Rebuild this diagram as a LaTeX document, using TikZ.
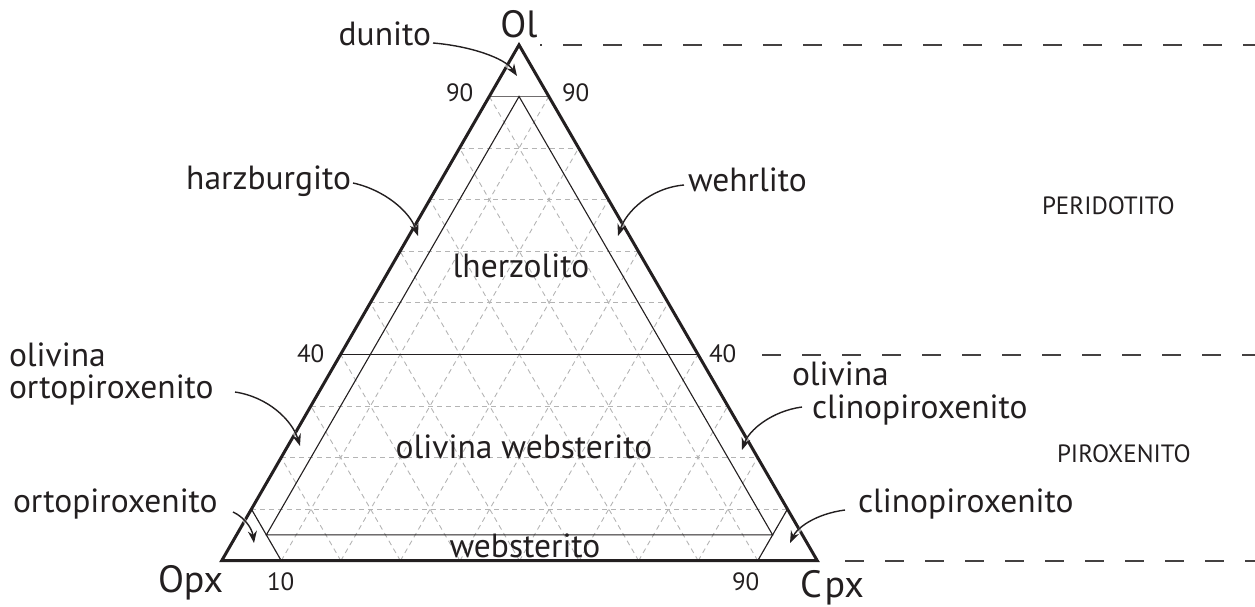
\documentclass[tikz,border=0pt]{standalone}
\usepackage{fontspec}
\setmainfont{PT Sans}
\usetikzlibrary{arrows.meta,calc}
\definecolor{ink}{HTML}{231F20}
\definecolor{gridgray}{HTML}{B4B4B4}
\newcommand\labfont{\fontsize{33.5bp}{38bp}\selectfont}
\newcommand\bigfont{\fontsize{38bp}{42bp}\selectfont}
\newcommand\numfont{\fontsize{25bp}{28bp}\selectfont}
\newcommand\capsfont{\fontsize{25bp}{28bp}\selectfont}
\begin{document}
\begin{tikzpicture}[x=1bp,y=-1bp,
  every node/.style={inner sep=0pt,outer sep=0pt,text=ink},
  lbl/.style={font=\labfont,anchor=base west},
  big/.style={font=\bigfont,anchor=base west},
  num/.style={font=\numfont,anchor=base west},
  caps/.style={font=\capsfont,anchor=base west},
  gridline/.style={draw=gridgray,line width=0.9bp,dash pattern=on 5bp off 4bp},
  thinline/.style={draw=ink,line width=1.1bp},
  outline/.style={draw=ink,line width=3bp,line join=miter},
  pointer/.style={draw=ink,line width=1.4bp,-{Stealth[length=12bp,width=9bp,inset=4bp]},
     preaction={draw=white,line width=3.5bp,opacity=0.6,-}},
  sepline/.style={draw=ink!85,line width=1.3bp,dash pattern=on 19bp off 21bp}]
\useasboundingbox (0,0) rectangle (1255,607);
\coordinate (A) at (519,44.9);
\coordinate (B) at (221.7,560.7);
\coordinate (C) at (817.3,560.7);
% grid
\foreach \i in {1,...,9}{
  \pgfmathsetmacro\a{\i/10}\pgfmathsetmacro\b{1-\i/10}
  \draw[gridline] (barycentric cs:A=\a,B=\b) -- (barycentric cs:A=\a,C=\b);
  \draw[gridline] (barycentric cs:C=\a,B=\b) -- (barycentric cs:C=\a,A=\b);
  \draw[gridline] (barycentric cs:B=\a,C=\b) -- (barycentric cs:B=\a,A=\b);
}
% classification lines
\draw[thinline,draw=ink!65,line width=1.4bp] (barycentric cs:A=.9,B=.1) -- (barycentric cs:A=.9,C=.1);
\draw[thinline] (barycentric cs:A=.4,B=.6) -- (barycentric cs:A=.4,C=.6);
\draw[thinline] (barycentric cs:A=.05,B=.9,C=.05) -- (barycentric cs:A=.9,B=.05,C=.05)
   -- (barycentric cs:A=.05,B=.05,C=.9) -- cycle;
\draw[thinline] (barycentric cs:B=.9,C=.1) -- (barycentric cs:B=.9,A=.1);
\draw[thinline] (barycentric cs:C=.9,B=.1) -- (barycentric cs:C=.9,A=.1);
\draw[outline] (A) -- (B) -- (C) -- cycle;
% separators
\draw[sepline,dash phase=17bp] (540,45) -- (1255,45);
\draw[sepline] (762,355) -- (1255,355);
\draw[sepline] (845,561) -- (1255,561);
% corner labels
\node[big,anchor=base] (nOl) at (519,38) {Ol};
\node[big] (nOpx) at (158,592) {Opx};
\node[big] (nCpx) at (800,597) {C\kern3bp px};
% numbers
\node[num] (n90l) at (446,102) {90};
\node[num] (n90r) at (562,102) {90};
\node[num] (n40l) at (297,363) {40};
\node[num] (n40r) at (709,363) {40};
\node[num] (n10b) at (267,590) {10};
\node[num] (n90b) at (732,590) {90};
% region labels
\node[lbl,anchor=base east] (dun) at (431,46) {dunito};
\node[lbl,anchor=base east] (harz) at (351,190) {harzburgito};
\node[lbl] (wehr) at (688,192) {wehrlito};
\node[lbl,anchor=base] (lherz) at (521,278) {lherzolito};
\node[lbl] (olo1) at (9,367) {olivina};
\node[lbl] (olo2) at (9,398) {ortopiroxenito};
\node[lbl] (olc1) at (792,385) {olivina};
\node[lbl] (olc2) at (812,418) {clinopiroxenito};
\node[lbl,anchor=base] (olweb) at (524,458) {olivina websterito};
\node[lbl,anchor=base] (web) at (525,557) {websterito};
\node[lbl] (orto) at (13,512) {ortopiroxenito};
\node[lbl] (clino) at (858,512) {clinopiroxenito};
\node[caps] (perid) at (1042,215) {PERIDOTITO};
\node[caps] (pirox) at (1057,462) {PIROXENITO};
% pointers
\coordinate (tDun) at (517,76);
\coordinate (tHarz) at (418,236);
\coordinate (tWehr) at (618,236);
\coordinate (tOlo) at (300,446);
\coordinate (tOlc) at (742,450);
\coordinate (tOrto) at (254,543);
\coordinate (tClino) at (790,543);
\draw[pointer] ([shift={(2,-3)}]dun.base east) .. controls (470,46) and (505,58) .. (tDun);
\draw[pointer] ([shift={(2,-7)}]harz.base east) .. controls (385,190) and (410,212) .. (tHarz);
\draw[pointer] ([shift={(-4,-7)}]wehr.base west) .. controls (650,188) and (626,212) .. (tWehr);
\draw[pointer] (235,392) .. controls (268,397) and (292,420) .. (tOlo);
\draw[pointer] ([shift={(-10,-11)}]olc2.base west) .. controls (772,411) and (749,430) .. (tOlc);
\draw[pointer] (233,512) .. controls (244,517) and (252,528) .. (tOrto);
\draw[pointer] ([shift={(-13,-2)}]clino.base west) .. controls (815,514) and (797,528) .. (tClino);
\end{tikzpicture}
\end{document}
